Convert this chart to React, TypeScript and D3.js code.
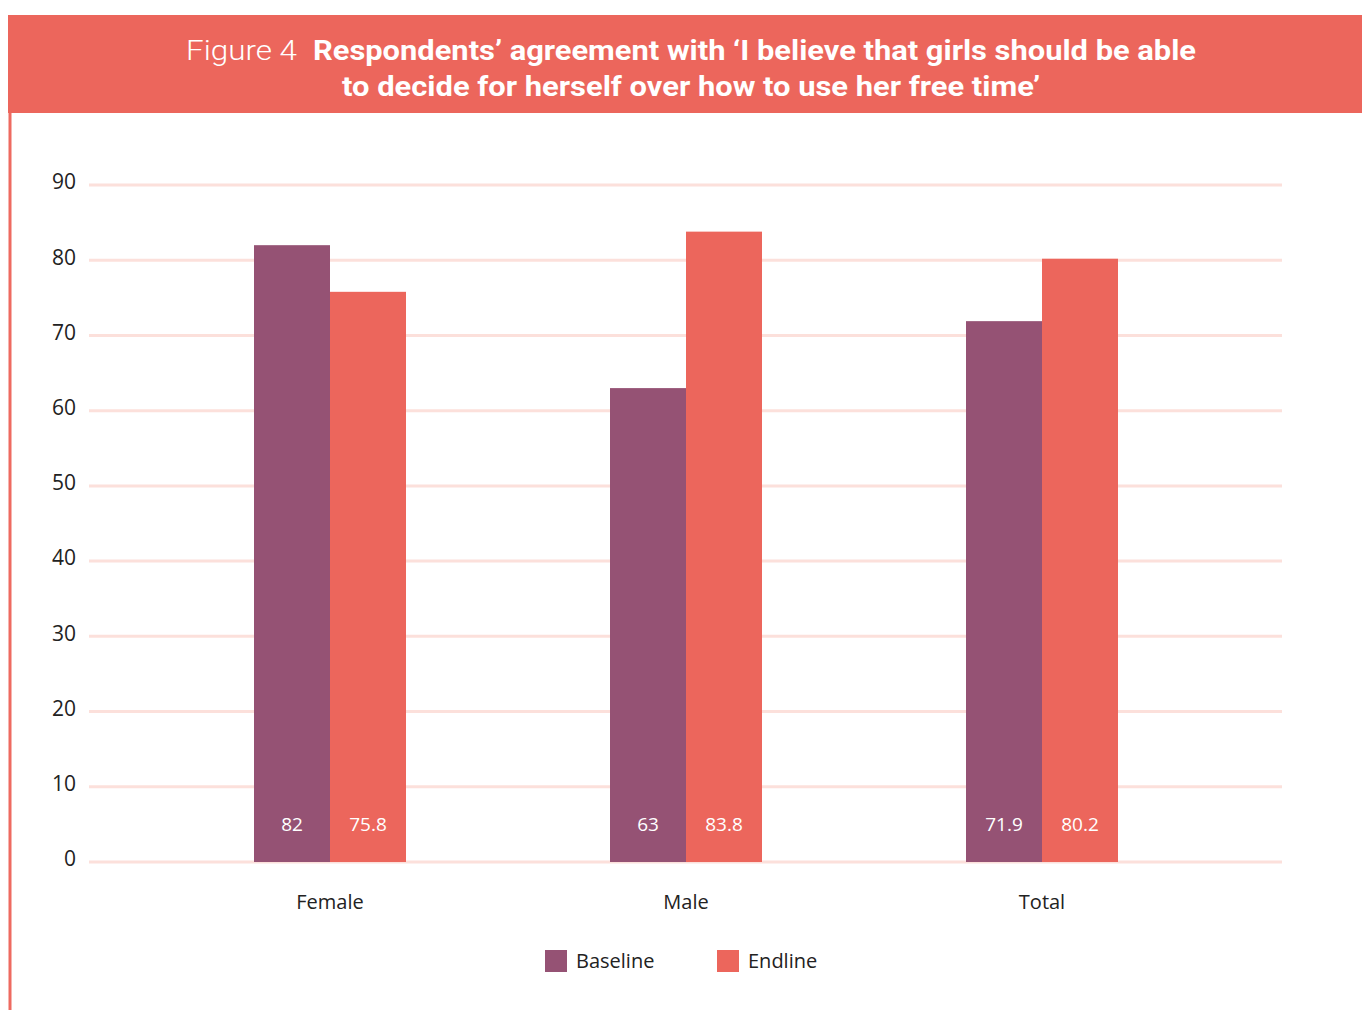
import React from "react";
import * as d3 from "d3";

const categories = ["Female", "Male", "Total"];
const seriesNames = ["Baseline", "Endline"];
const baselineValues = [82, 63, 71.9];
const endlineValues = [75.8, 83.8, 80.2];
const yTicks = [0, 10, 20, 30, 40, 50, 60, 70, 80, 90];
const titlePrefix = "Figure 4";
const titleLine1 = "Respondents\u2019 agreement with \u2018I believe that girls should be able";
const titleLine2 = "to decide for herself over how to use her free time\u2019";

const W = 1362;
const H = 1010;
const colors: Record<string, string> = { Baseline: "#955274", Endline: "#EC665C" };
const font = "'Open Sans', 'Noto Sans', sans-serif";

export default function App() {
  const y = d3.scaleLinear().domain([0, 90]).range([862, 185]);
  const x0 = d3.scaleBand<string>().domain(categories).range([152, 1220]).padding(0);
  const x1 = d3.scaleBand<string>().domain(seriesNames).range([0, 152]).padding(0);
  const data = categories.map((c, i) => ({ cat: c, Baseline: baselineValues[i], Endline: endlineValues[i] }));

  return (
    <svg width={W} height={H} style={{ position: "absolute", left: 0, top: 0, background: "#fff" }}>
      {/* header band */}
      <rect x={8} y={15} width={W - 8} height={98} fill="#EC665C" />
      <line x1={10} x2={10} y1={113} y2={H} stroke="#EE6A60" strokeWidth={3} />
      <text y={60} fill="#fff" fontFamily="Roboto, sans-serif" fontSize={28}>
        <tspan x={186} fontWeight={300} textLength={111} lengthAdjust="spacingAndGlyphs">{titlePrefix}</tspan>
        <tspan x={313} fontWeight={700} textLength={883} lengthAdjust="spacingAndGlyphs">{titleLine1}</tspan>
      </text>
      <text x={342} y={96} fill="#fff" fontFamily="Roboto, sans-serif" fontSize={28} fontWeight={700}
        textLength={698} lengthAdjust="spacingAndGlyphs">{titleLine2}</text>

      {/* grid */}
      {yTicks.map((t) => (
        <g key={t}>
          <line x1={89} x2={1282} y1={y(t)} y2={y(t)} stroke="#FCE0DB" strokeWidth={3} />
          <text x={76} y={y(t) - 3} dy="0.35em" textAnchor="end" fontFamily={font} fontSize={21} fill="#222">{t}</text>
        </g>
      ))}

      {/* bars */}
      {data.map((d) => {
        const gx = (x0(d.cat) as number) + x0.bandwidth() / 2 - 76;
        return (
          <g key={d.cat} transform={`translate(${gx},0)`}>
            {seriesNames.map((s) => {
              const v = (d as any)[s] as number;
              const bx = x1(s) as number;
              return (
                <g key={s}>
                  <rect x={bx} y={y(v)} width={x1.bandwidth()} height={y(0) - y(v)} fill={colors[s]} />
                  <text x={bx + x1.bandwidth() / 2} y={824} dy="0.35em" textAnchor="middle"
                    fontFamily={font} fontSize={19} fill="#fff">{v}</text>
                </g>
              );
            })}
          </g>
        );
      })}

      {/* x labels */}
      {categories.map((c) => (
        <text key={c} x={(x0(c) as number) + x0.bandwidth() / 2} y={902} dy="0.35em" textAnchor="middle"
          fontFamily={font} fontSize={20} fill="#222">{c}</text>
      ))}

      {/* legend */}
      {seriesNames.map((s, i) => {
        const lx = [545, 717][i];
        return (
          <g key={s}>
            <rect x={lx} y={950} width={22} height={22} fill={colors[s]} />
            <text x={lx + 31} y={961} dy="0.35em" fontFamily={font} fontSize={20} fill="#222">{s}</text>
          </g>
        );
      })}
    </svg>
  );
}
